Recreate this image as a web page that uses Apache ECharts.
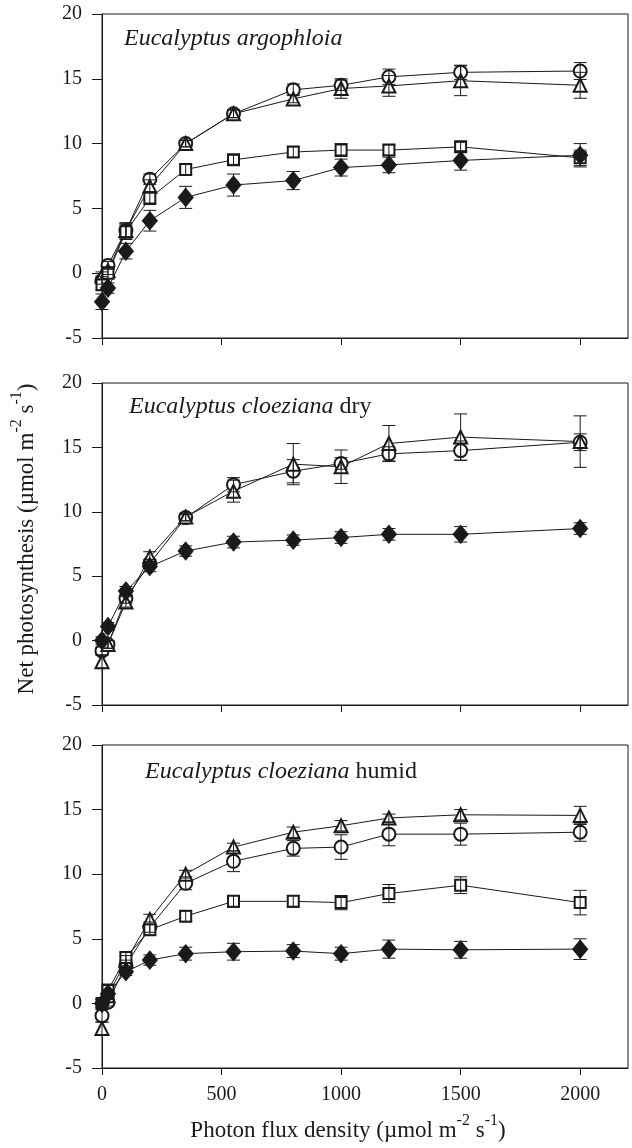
<!DOCTYPE html>
<html><head><meta charset="utf-8">
<script src="https://cdn.jsdelivr.net/npm/echarts@6/dist/echarts.min.js"></script>
<style>html,body{margin:0;padding:0;background:#fff}#c{width:632px;height:1148px}</style>
</head><body><div id="c"></div>
<script>
// Photon flux density levels (x)
const pfd = [0, 25, 100, 200, 350, 550, 800, 1000, 1200, 1500, 2000];
const xTicks = [0, 500, 1000, 1500, 2000];
const yTicks = [-5, 0, 5, 10, 15, 20];

// Panel A: Eucalyptus argophloia
const circA    = [-0.55, 0.6, 3.3, 7.25, 10.0, 12.3, 14.15, 14.5, 15.15, 15.5, 15.6];
const circAErr = [0.3, 0.3, 0.6, 0.4, 0.25, 0.3, 0.45, 0.4, 0.6, 0.55, 0.65];
const triA     = [-0.2, 0.2, 3.3, 6.7, 10.0, 12.3, 13.45, 14.25, 14.45, 14.85, 14.5];
const triAErr  = [0.3, 0.3, 0.5, 0.5, 0.25, 0.3, 0.3, 0.75, 0.8, 1.15, 1.0];
const sqA      = [-0.9, 0.0, 3.2, 5.8, 8.0, 8.75, 9.35, 9.5, 9.5, 9.75, 8.9];
const sqAErr   = [0.4, 0.4, 0.6, 0.5, 0.4, 0.35, 0.4, 0.5, 0.4, 0.35, 0.6];
const dmA      = [-2.2, -1.15, 1.7, 4.05, 5.85, 6.8, 7.15, 8.15, 8.35, 8.7, 9.1];
const dmAErr   = [0.6, 0.4, 0.6, 0.8, 0.85, 0.85, 0.7, 0.65, 0.6, 0.75, 0.9];

// Panel B: Eucalyptus cloeziana dry
const triB     = [-1.65, -0.3, 3.0, 6.5, 9.6, 11.6, 13.7, 13.5, 15.3, 15.8, 15.45];
const triBErr  = [0.5, 0.3, 0.4, 0.4, 0.3, 0.85, 1.6, 1.3, 1.4, 1.8, 2.0];
const circB    = [-0.8, -0.3, 3.3, 6.0, 9.55, 12.1, 13.15, 13.75, 14.5, 14.75, 15.4];
const circBErr = [0.3, 0.3, 0.4, 0.3, 0.25, 0.55, 0.9, 0.45, 0.55, 0.75, 0.65];
const dmB      = [0.0, 1.1, 3.85, 5.75, 6.95, 7.65, 7.8, 8.0, 8.25, 8.25, 8.7];
const dmBErr   = [0.3, 0.3, 0.35, 0.4, 0.4, 0.45, 0.4, 0.45, 0.45, 0.6, 0.45];

// Panel C: Eucalyptus cloeziana humid
const triC     = [-1.95, 0.6, 3.3, 6.5, 10.0, 12.1, 13.25, 13.75, 14.35, 14.6, 14.55];
const triCErr  = [0.5, 0.3, 0.4, 0.4, 0.3, 0.3, 0.4, 0.4, 0.3, 0.4, 0.7];
const circC    = [-0.95, 0.1, 2.95, 5.9, 9.3, 11.0, 12.0, 12.1, 13.1, 13.1, 13.25];
const circCErr = [0.5, 0.3, 0.4, 0.4, 0.5, 0.8, 0.6, 0.95, 0.9, 0.85, 0.7];
const sqC      = [0.0, 1.0, 3.55, 5.7, 6.75, 7.9, 7.9, 7.8, 8.5, 9.15, 7.8];
const sqCErr   = [0.3, 0.5, 0.4, 0.4, 0.4, 0.45, 0.45, 0.55, 0.7, 0.65, 0.95];
const dmC      = [0.0, 0.75, 2.45, 3.35, 3.85, 4.0, 4.05, 3.85, 4.2, 4.15, 4.2];
const dmCErr   = [0.3, 0.3, 0.3, 0.4, 0.5, 0.65, 0.5, 0.5, 0.7, 0.65, 0.8];

const FONT = 'Liberation Serif';
const INK = '#1a1a1a';

const grids = [
  {left: 102, right: 4, top: 14, height: 324},
  {left: 102, right: 4, top: 383, height: 322},
  {left: 102, right: 4, top: 745, height: 323}
];

const markers = {
  circ: {symbol: 'emptyCircle', size: 13},
  tri:  {symbol: 'emptyTriangle', size: 13},
  sq:   {symbol: 'emptyRect', size: 11},
  dm:   {symbol: 'diamond', size: [15, 18]}
};

function lineSeries(gi, kind, vals) {
  const m = markers[kind];
  return {
    type: 'line', xAxisIndex: gi, yAxisIndex: gi, name: kind + gi,
    data: pfd.map((x, i) => [x, vals[i]]),
    symbol: m.symbol, symbolSize: m.size, showSymbol: true, clip: false,
    lineStyle: {color: INK, width: 1},
    itemStyle: {color: INK, borderColor: INK, borderWidth: 1},
    emphasis: {disabled: true}, z: 3
  };
}

function errSeries(gi, vals, errs) {
  return {
    type: 'custom', xAxisIndex: gi, yAxisIndex: gi, silent: true, z: 6, clip: false,
    data: pfd.map((x, i) => [x, vals[i] - errs[i], vals[i] + errs[i]]),
    encode: {x: 0, y: [1, 2]},
    renderItem: function (params, api) {
      const x = api.value(0);
      const lo = api.coord([x, api.value(1)]);
      const hi = api.coord([x, api.value(2)]);
      const w = 6.5;
      const st = {stroke: INK, lineWidth: 1};
      return {type: 'group', children: [
        {type: 'line', shape: {x1: lo[0], y1: lo[1], x2: hi[0], y2: hi[1]}, style: st},
        {type: 'line', shape: {x1: lo[0] - w, y1: lo[1], x2: lo[0] + w, y2: lo[1]}, style: st},
        {type: 'line', shape: {x1: hi[0] - w, y1: hi[1], x2: hi[0] + w, y2: hi[1]}, style: st}
      ]};
    }
  };
}

const panels = [
  [['circ', circA, circAErr], ['tri', triA, triAErr], ['sq', sqA, sqAErr], ['dm', dmA, dmAErr]],
  [['circ', circB, circBErr], ['tri', triB, triBErr], ['dm', dmB, dmBErr]],
  [['circ', circC, circCErr], ['tri', triC, triCErr], ['sq', sqC, sqCErr], ['dm', dmC, dmCErr]]
];

const series = [];
panels.forEach((p, gi) => {
  p.forEach(([k, v]) => series.push(lineSeries(gi, k, v)));
  p.forEach(([k, v, e]) => series.push(errSeries(gi, v, e)));
});

const xAxes = grids.map((g, gi) => ({
  type: 'value', gridIndex: gi, min: 0, max: 2200,
  axisLine: {show: true, onZero: false, lineStyle: {color: INK, width: 1}},
  axisTick: {show: true, length: 7, customValues: xTicks, lineStyle: {color: INK, width: 1}},
  axisLabel: {show: gi === 2, customValues: xTicks, margin: 17, fontFamily: FONT, fontSize: 20, color: INK,
    formatter: v => String(v)},
  splitLine: {show: false}
}));

const yAxes = grids.map((g, gi) => ({
  type: 'value', gridIndex: gi, min: -5, max: 20, interval: 5,
  axisLine: {show: true, onZero: false, lineStyle: {color: INK, width: 1}},
  axisTick: {show: true, length: 10, lineStyle: {color: INK, width: 1}},
  axisLabel: {margin: 20, fontFamily: FONT, fontSize: 20, color: INK,
    formatter: v => (yTicks.indexOf(v) >= 0 ? String(v) : '')},
  splitLine: {show: false}
}));

const titleRich = {
  i: {fontFamily: FONT, fontStyle: 'italic', fontSize: 24, fill: INK},
  n: {fontFamily: FONT, fontSize: 24, fill: INK}
};
const axRich = {
  n: {fontFamily: FONT, fontSize: 23, fill: INK, lineHeight: 36, verticalAlign: 'middle'},
  s: {fontFamily: FONT, fontSize: 16, fill: INK, lineHeight: 16, verticalAlign: 'top'}
};

const option = {
  animation: false,
  backgroundColor: '#fff',
  grid: grids.map(g => Object.assign({show: true, borderColor: INK, borderWidth: 1, backgroundColor: 'transparent'}, g)),
  xAxis: xAxes,
  yAxis: yAxes,
  series: series,
  graphic: [
    {type: 'text', x: 124, y: 39, style: {text: '{i|Eucalyptus argophloia}', rich: titleRich, verticalAlign: 'middle'}},
    {type: 'text', x: 129, y: 407, style: {text: '{i|Eucalyptus cloeziana}{n| dry}', rich: titleRich, verticalAlign: 'middle'}},
    {type: 'text', x: 145, y: 772, style: {text: '{i|Eucalyptus cloeziana}{n| humid}', rich: titleRich, verticalAlign: 'middle'}},
    {type: 'text', x: 348, y: 1131, style: {text: '{n|Photon flux density (µmol m}{s|-2}{n| s}{s|-1}{n|)}', rich: axRich, align: 'center', verticalAlign: 'middle'}},
    {type: 'text', x: 27, y: 539, rotation: Math.PI / 2, style: {text: '{n|Net photosynthesis (µmol m}{s|-2}{n| s}{s|-1}{n|)}', rich: axRich, align: 'center', verticalAlign: 'middle'}}
  ]
};

const chart = echarts.init(document.getElementById('c'), null, {renderer: 'canvas'});
chart.setOption(option);
</script>
</body></html>
